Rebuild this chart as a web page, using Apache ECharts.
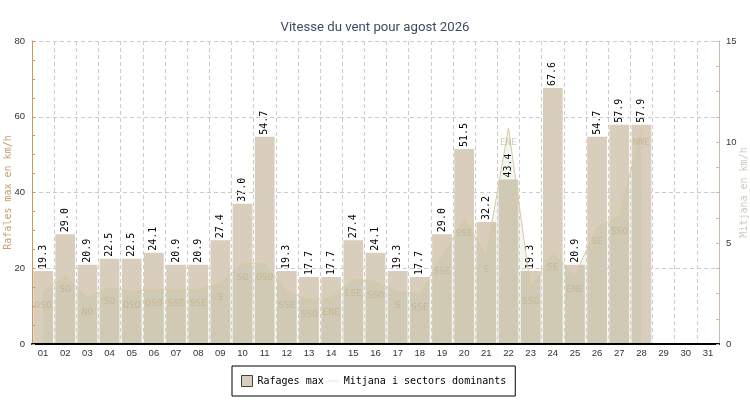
<!DOCTYPE html>
<html>
<head>
<meta charset="utf-8">
<script src="https://cdn.jsdelivr.net/npm/echarts@6/dist/echarts.min.js"></script>
<style>
  html, body { margin: 0; padding: 0; background: #fff; }
  #chart { width: 750px; height: 400px; }
</style>
</head>
<body>
<div id="chart"></div>
<script>
// dies del mes
let days = ['01','02','03','04','05','06','07','08','09','10','11','12','13','14','15','16',
            '17','18','19','20','21','22','23','24','25','26','27','28','29','30','31'];
// ratxes maximes (km/h)
let gusts = [19.3, 29.0, 20.9, 22.5, 22.5, 24.1, 20.9, 20.9, 27.4, 37.0, 54.7, 19.3, 17.7, 17.7,
             27.4, 24.1, 19.3, 17.7, 29.0, 51.5, 32.2, 43.4, 19.3, 67.6, 20.9, 54.7, 57.9, 57.9,
             null, null, null];
// velocitat mitjana (km/h)
let meanWind = [2.6, 3.4, 2.3, 2.8, 2.6, 2.7, 2.7, 2.7, 3.0, 4.0, 4.0, 2.6, 2.2, 2.3,
                3.2, 3.1, 2.6, 2.5, 4.3, 6.2, 4.4, 10.7, 2.8, 4.5, 3.4, 5.8, 6.3, 10.7,
                null, null, null];
// sector dominant
let sectors = ['OSO','SO','NO','SO','OSO','OSO','SSE','SSE','S','SO','OSO','SSE','SSO','ENE',
               'ESE','SSO','S','SSE','SSE','SSE','S','ENE','SSO','SE','ENE','SE','SSO','NNE',
               '', '', ''];

let mono = 'DejaVu Sans Mono';
let chart = echarts.init(document.getElementById('chart'));

let option = {
    animation: false,
    backgroundColor: '#fff',
    title: {
        text: 'Vitesse du vent pour agost 2026',
        left: 'center',
        top: 16,
        textStyle: { fontFamily: 'Roboto', fontSize: 13.2, fontWeight: 'normal', color: '#3e4a63' }
    },
    legend: {
        left: 232,
        top: 366,
        padding: [9, 9],
        itemGap: 4,
        itemWidth: 11,
        itemHeight: 11,
        borderColor: '#000',
        borderWidth: 1,
        textStyle: { fontFamily: mono, fontSize: 10, color: '#000' },
        data: [
            { name: 'Rafages max', icon: 'rect', itemStyle: { borderColor: '#444', borderWidth: 1 } },
            { name: 'Mitjana i sectors dominants', icon: 'path://M0,0H20V1.6H0Z',
              itemStyle: { color: '#e6dcc4', borderWidth: 0 } }
        ]
    },
    grid: { left: 32, right: 31, top: 41, bottom: 56, containLabel: false, outerBoundsMode: 'none' },
    xAxis: {
        type: 'category',
        data: days,
        z: 10,
        axisLine: { lineStyle: { color: '#000', width: 2 } },
        axisTick: { inside: true, length: 4, interval: 0, lineStyle: { color: '#000' } },
        axisLabel: { fontFamily: 'Liberation Sans', fontSize: 9.5, color: '#333', margin: 4, interval: 0 },
        splitLine: { show: true, interval: 0, lineStyle: { color: '#ccc', type: [4, 3] } }
    },
    yAxis: [{
        type: 'value',
        min: 0, max: 80, interval: 20,
        name: 'Rafales max en km/h',
        nameLocation: 'middle',
        nameGap: 24,
        nameMoveOverlap: false,
        z: 10,
        nameTextStyle: { fontFamily: mono, fontSize: 10, color: '#c9a06b', verticalAlign: 'middle' },
        axisLine: { show: true, lineStyle: { color: '#c99a5b' } },
        axisTick: { show: true, inside: true, length: 3, lineStyle: { color: '#c99a5b' } },
        minorTick: { show: true, splitNumber: 4, length: 3, lineStyle: { color: '#c99a5b' } },
        axisLabel: { fontFamily: 'Liberation Sans', fontSize: 9.5, color: '#333', margin: 7 },
        splitLine: { show: true, lineStyle: { color: '#ccc', type: [4, 3] } }
    }, {
        type: 'value',
        min: 0, max: 15, interval: 5,
        name: 'Mitjana en km/h',
        nameLocation: 'middle',
        nameGap: 25,
        nameMoveOverlap: false,
        z: 10,
        nameTextStyle: { fontFamily: mono, fontSize: 10, color: '#d2c9bc', verticalAlign: 'middle' },
        axisLine: { show: true, lineStyle: { color: '#c8bcac' } },
        axisTick: { show: true, inside: true, length: 3, lineStyle: { color: '#c8bcac' } },
        minorTick: { show: true, splitNumber: 4, length: 3, lineStyle: { color: '#c8bcac' } },
        axisLabel: { fontFamily: 'Liberation Sans', fontSize: 9.5, color: '#333', margin: 7 },
        splitLine: { show: false }
    }],
    series: [{
        name: 'Rafages max',
        type: 'bar',
        yAxisIndex: 0,
        barCategoryGap: '11%',
        itemStyle: { color: '#d9cdbb' },
        label: {
            show: true,
            position: 'top',
            rotate: 90,
            align: 'left',
            verticalAlign: 'middle',
            distance: 2,
            fontFamily: mono,
            fontSize: 10,
            color: '#000',
            formatter: function (p) { return p.value.toFixed(1); }
        },
        data: gusts
    }, {
        name: 'Mitjana i sectors dominants',
        type: 'line',
        yAxisIndex: 1,
        symbol: 'circle',
        symbolSize: 1,
        showSymbol: true,
        lineStyle: { color: '#dcc99e', width: 1 },
        itemStyle: { color: 'rgba(220,201,158,0)' },
        areaStyle: { color: 'rgba(120,160,100,0.12)' },
        label: {
            show: true,
            position: 'bottom',
            distance: 9,
            fontFamily: mono,
            fontSize: 9.5,
            color: 'rgba(190,170,130,0.6)',
            formatter: function (p) { return sectors[p.dataIndex]; }
        },
        data: meanWind
    }]
};

chart.setOption(option);
</script>
</body>
</html>
